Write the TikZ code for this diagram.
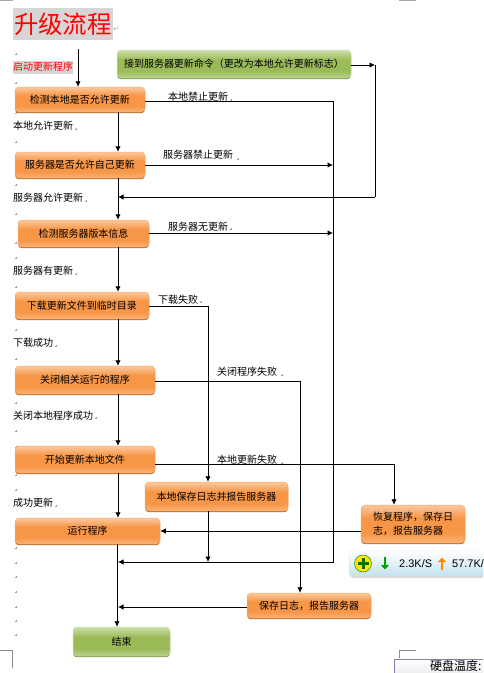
\documentclass[tikz,border=0pt]{standalone}
\usepackage{fontspec}
\setmainfont{Noto Sans CJK SC}
\newfontfamily\latinf{Liberation Sans}
\newfontfamily\symf{DejaVu Sans}
\usetikzlibrary{arrows.meta,calc}
\definecolor{orM}{HTML}{F79646}
\definecolor{orT}{HTML}{FCC9A0}
\definecolor{orB}{HTML}{FAB27A}
\definecolor{orD}{HTML}{A85A14}
\definecolor{grM}{HTML}{9BBB59}
\definecolor{grT}{HTML}{CFE0AE}
\definecolor{grB}{HTML}{B9D08A}
\definecolor{grD}{HTML}{6A8238}
\definecolor{pmark}{HTML}{A0A0A0}
\definecolor{trayb}{HTML}{C3E2EE}
\pgfdeclareverticalshading{orsh}{100bp}{color(0bp)=(orB);color(25bp)=(orB);color(38bp)=(orM);color(58bp)=(orM);color(75bp)=(orT);color(100bp)=(orT)}
\pgfdeclareverticalshading{grsh}{100bp}{color(0bp)=(grB);color(25bp)=(grB);color(38bp)=(grM);color(58bp)=(grM);color(75bp)=(grT);color(100bp)=(grT)}
\tikzset{
  x=1pt,y=-1pt,
  txt/.style={font=\fontsize{10}{15}\selectfont,text=black,inner sep=0pt},
  orbox/.style={txt,rounded corners=4pt,draw=orM!80!white,line width=.5pt,
    shading=orsh,
    preaction={fill=orD,transform canvas={yshift=-1.2pt}}},
  grbox/.style={txt,rounded corners=4pt,draw=grT,line width=.5pt,
    shading=grsh,
    preaction={fill=grD,transform canvas={yshift=-1.2pt}}},
  lab/.style={txt,anchor=west},
  conn/.style={line width=.8pt,black},
  arr/.style={conn,-{Latex[length=5.5pt,width=5.5pt]}},
  page/.style={line width=.6pt,draw=black!45},
  pm/.style={pmark,line width=.35pt},
}
\newcommand{\boxat}[7]{% name,style,x1,y1,x2,y2,text
  \node[#2,minimum width=#5pt-#3pt,minimum height=#6pt-#4pt] (#1) at ({(#3+#5)/2},{(#4+#6)/2}) {#7};}
\begin{document}
\begin{tikzpicture}
\useasboundingbox (0,0) rectangle (483,673);
\fill[white] (0,0) rectangle (483,673);
% page corners
\draw[page] (0,650) -- (12,650) -- (12,668);
\draw[page] (399,658) -- (399,650) -- (416,650);
\fill[black!35] (0,0) rectangle (13,1);
\fill[black!35] (399,0) rectangle (416,1);
% title
\node[fill=black!16,inner sep=0pt,minimum width=100pt,minimum height=32pt,
  text=red,font=\fontsize{24.5}{26}\selectfont] (title) at (63,24) {升级流程};
\node[anchor=west,inner sep=0pt,text=pmark,font=\symf\fontsize{7}{8}\selectfont] (titlemark) at (113,29) {↵};
% paragraph marks
\foreach \y in {54,83,113,142,185,214,243,258,287,316,330,359,389,403,431,447,475,490,548,563,577,592,607,621,635}
  \draw[pm] (15,\y) -- (16.5,\y) -- (16.5,\y-1.5);
% marks after texts
\foreach \x/\y in {76/129,86/201,76/274,56/346,96/418,56/506,231/100,238/159,231/229,201/302,282/375,282/463,132/103,137/168,129/236,141/307,133/381,127/462,278/498,109/534,133/642,452/534,363/609,346/65}
  \draw[pm] (\x-1,\y) -- (\x,\y) -- (\x,\y-1.5);
% plain labels
\node[lab,fill=black!16,text=red,minimum height=13pt] (start) at (13,67) {启动更新程序};
\node[lab] (l1) at (13,126) {本地允许更新};
\node[lab] (l2) at (13,198) {服务器允许更新};
\node[lab] (l3) at (13,271) {服务器有更新};
\node[lab] (l4) at (13,343) {下载成功};
\node[lab] (l5) at (13,416) {关闭本地程序成功};
\node[lab] (l6) at (13,503) {成功更新};
\node[lab] (r1) at (168,97) {本地禁止更新};
\node[lab] (r2) at (163,155) {服务器禁止更新};
\node[lab] (r3) at (168,227) {服务器无更新};
\node[lab] (r4) at (158,300) {下载失败};
\node[lab] (r5) at (217,372) {关闭程序失败};
\node[lab] (r6) at (217,460) {本地更新失败};
% boxes
\boxat{g0}{grbox}{117}{50}{351}{78}{接到服务器更新命令（更改为本地允许更新标志）}
\boxat{b1}{orbox}{15}{87}{145}{112}{检测本地是否允许更新}
\boxat{b2}{orbox}{15}{152}{145}{178}{服务器是否允许自己更新}
\boxat{b3}{orbox}{18}{220}{149}{247}{检测服务器版本信息}
\boxat{b4}{orbox}{15}{292}{149}{319}{下载更新文件到临时目录}
\boxat{b5}{orbox}{15}{366}{155}{394}{关闭相关运行的程序}
\boxat{b6}{orbox}{15}{446}{155}{473}{开始更新本地文件}
\boxat{blog}{orbox}{145}{482}{288}{511}{本地保存日志并报告服务器}
\boxat{brun}{orbox}{15}{518}{160}{544}{运行程序}
\boxat{bres}{orbox}{361}{505}{465}{543}{\begin{tabular}{@{}l@{}}恢复程序，保存日\\[-1pt]志，报告服务器\end{tabular}}
\boxat{bsave}{orbox}{247}{593}{371}{618}{保存日志，报告服务器}
\boxat{bend}{grbox}{73}{627}{170}{656}{结束}
% coordinates for routing
\coordinate (mx) at (118,0);
\coordinate (ex) at (117,0);
\coordinate (vA) at (333,0);
\coordinate (vB) at (375,0);
\coordinate (vC) at (208,0);
\coordinate (vD) at (300,0);
\coordinate (vE) at (394,0);
\coordinate (s0) at (78,49);
\coordinate (h1) at (0,101);
\coordinate (h2) at (0,165);
\coordinate (h3) at (0,233);
\coordinate (h4) at (0,306);
\coordinate (h5) at (0,381);
\coordinate (h6) at (0,464);
\coordinate (hg) at (0,65);
\coordinate (hb) at (0,197);
\coordinate (hl) at (0,562);
\coordinate (hr) at (0,531);
\coordinate (hs) at (0,607);
% connectors
\draw[arr] (s0) -- (s0 |- b1.north);
\draw[arr] (b1.south -| mx) -- (b2.north -| mx);
\draw[arr] (b2.south -| mx) -- (b3.north -| mx);
\draw[arr] (b3.south -| mx) -- (b4.north -| mx);
\draw[arr] (b4.south -| mx) -- (b5.north -| mx);
\draw[arr] (b5.south -| mx) -- (b6.north -| mx);
\draw[arr] (b6.south -| mx) -- (brun.north -| mx);
\draw[arr] (brun.south -| ex) -- (bend.north -| ex);
\draw[arr] (b1.east |- h1) -- (vA |- h1) -- (vA |- hl) -- (mx |- hl);
\draw[arr] (b2.east |- h2) -- (vA |- h2);
\draw[arr] (b3.east |- h3) -- (vA |- h3);
\draw[arr] (g0.east |- hg) -- (vB |- hg);
\draw[conn] (vB |- hg) -- (vB |- hb);
\draw[arr] (vB |- hb) -- (mx |- hb);
\draw[arr] (b4.east |- h4) -- (vC |- h4) -- (vC |- blog.north);
\draw[arr] (b5.east |- h5) -- (vD |- h5) -- (vD |- bsave.north);
\draw[arr] (b6.east |- h6) -- (vE |- h6) -- (vE |- bres.north);
\draw[arr] (blog.south -| vC) -- (vC |- hl);
\draw[arr] (bres.west |- hr) -- (brun.east |- hr);
\draw[arr] (bsave.west |- hs) -- (mx |- hs);
% tray widget
\begin{scope}
\clip (0,0) rectangle (483,673);
\fill[black!14,rounded corners=3pt] (350,553) rectangle (495,578);
\node[rounded corners=3pt,minimum width=140pt,minimum height=25pt,inner sep=0pt,
  top color=white,bottom color=trayb,draw=black!10,line width=.4pt] (tray) at (419,563.5) {};
\node[circle,minimum size=17pt,inner sep=0pt,fill=yellow!90!orange,draw=green!45!black!80,line width=.6pt] (ico) at (363,563.5) {};
\fill[green!45!black] (361.5,558) rectangle (364.5,569);
\fill[green!45!black] (357.5,562) rectangle (368.5,565);
\draw[green!65!black,line width=1.6pt,-{Triangle[length=4.5pt,width=8pt]}] (385,557) -- (385,569.5);
\node[lab,font=\latinf\fontsize{11}{12}\selectfont] (v1) at (399,564) {2.3K/S};
\draw[orange!90!yellow,line width=1.6pt,-{Triangle[length=4.5pt,width=8pt]}] (442,570) -- (442,557.5);
\node[lab,font=\latinf\fontsize{11}{12}\selectfont] (v2) at (452,564) {57.7K/};
\node[rectangle,minimum width=100pt,minimum height=16pt,inner sep=0pt,anchor=north west,
  top color=white,bottom color=black!8,draw=blue!35!black!50,line width=.5pt] (hdd) at (394,659) {};
\node[lab,font=\fontsize{12}{12}\selectfont] (hddt) at (430,666) {硬盘温度:};
\end{scope}
\end{tikzpicture}
\end{document}
